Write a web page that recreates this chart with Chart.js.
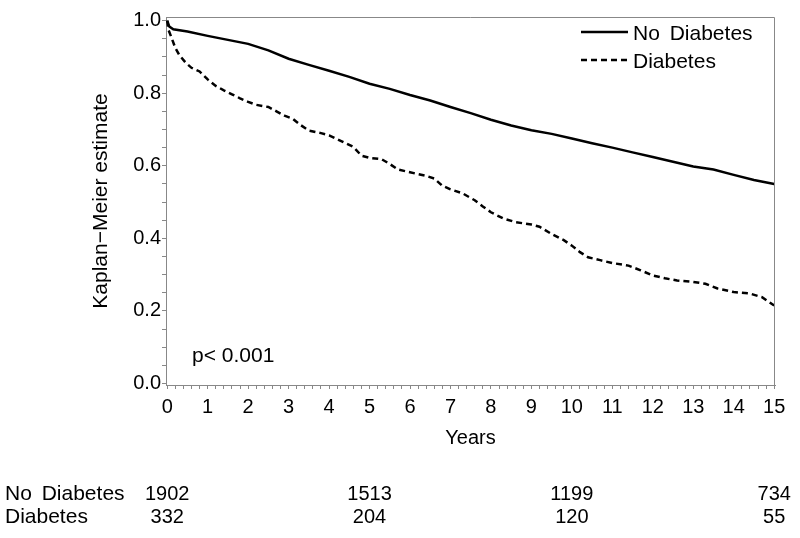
<!DOCTYPE html>
<html><head><meta charset="utf-8">
<script src="https://cdn.jsdelivr.net/npm/chart.js@4"></script>
<style>html,body{margin:0;padding:0;background:#fff;} #c{display:block;}</style>
</head><body>
<canvas id="c" width="800" height="538"></canvas>
<script>
const FONT = '"Liberation Sans", Arial, Helvetica, sans-serif';

const seriesNames = ['No Diabetes', 'Diabetes'];

const noDiabTime = [0, 0.05, 0.15, 0.5, 1.0, 1.5, 2.0, 2.5, 3.0, 3.5, 4.0, 4.5, 5.0, 5.5, 6.0, 6.5, 7.0, 7.5, 8.0, 8.5, 9.0, 9.5, 10.0, 10.5, 11.0, 11.5, 12.0, 12.5, 13.0, 13.5, 14.0, 14.5, 15.0];
const noDiabSurv = [1.0, 0.984, 0.976, 0.970, 0.958, 0.947, 0.936, 0.918, 0.895, 0.878, 0.862, 0.845, 0.826, 0.812, 0.795, 0.780, 0.762, 0.745, 0.727, 0.711, 0.698, 0.688, 0.675, 0.662, 0.650, 0.637, 0.624, 0.611, 0.598, 0.590, 0.575, 0.561, 0.550];

const diabTime = [0, 0.03, 0.1, 0.2, 0.3, 0.45, 0.6, 0.8, 1.0, 1.2, 1.4, 1.6, 1.8, 2.0, 2.2, 2.5, 2.7, 2.9, 3.1, 3.3, 3.5, 3.8, 4.0, 4.3, 4.6, 4.8, 5.0, 5.3, 5.5, 5.7, 6.0, 6.4, 6.6, 6.8, 7.0, 7.3, 7.6, 7.8, 8.0, 8.3, 8.6, 9.0, 9.2, 9.5, 9.8, 10.0, 10.2, 10.4, 10.7, 11.0, 11.4, 11.7, 12.0, 12.3, 12.6, 13.0, 13.3, 13.6, 14.0, 14.4, 14.7, 15.0];
const diabSurv = [1.0, 0.975, 0.955, 0.925, 0.905, 0.885, 0.870, 0.860, 0.838, 0.820, 0.808, 0.797, 0.786, 0.776, 0.768, 0.762, 0.750, 0.738, 0.730, 0.712, 0.697, 0.690, 0.684, 0.668, 0.652, 0.628, 0.622, 0.618, 0.605, 0.590, 0.582, 0.572, 0.565, 0.545, 0.535, 0.524, 0.505, 0.488, 0.472, 0.455, 0.445, 0.438, 0.432, 0.412, 0.395, 0.380, 0.362, 0.348, 0.340, 0.332, 0.325, 0.312, 0.298, 0.290, 0.284, 0.280, 0.275, 0.262, 0.252, 0.248, 0.238, 0.215];

const xMajorTicks = [0,1,2,3,4,5,6,7,8,9,10,11,12,13,14,15];
const yMajorTicks = [0.0, 0.2, 0.4, 0.6, 0.8, 1.0];

const riskTimes = [0, 5, 10, 15];
const riskNoDiab = [1902, 1513, 1199, 734];
const riskDiab = [332, 204, 120, 55];
const pValueText = 'p< 0.001';

const toPoints = (t, s) => t.map((x, i) => ({x: x, y: s[i]}));

const overlay = {
  id: 'overlay',
  afterDraw(chart) {
    const {ctx, chartArea: a, scales: {x}} = chart;
    ctx.save();
    ctx.strokeStyle = '#888';
    ctx.lineWidth = 1;
    ctx.beginPath();
    ctx.moveTo(a.left, a.top + 0.5);
    ctx.lineTo(a.right - 0.5, a.top + 0.5);
    ctx.lineTo(a.right - 0.5, a.bottom);
    ctx.stroke();

    ctx.font = '21px ' + FONT;
    ctx.fillStyle = '#000';
    ctx.textBaseline = 'middle';
    const hasWS = 'wordSpacing' in ctx;
    if (hasWS) ctx.wordSpacing = '4px';
    chart.data.datasets.forEach((ds, i) => {
      const yy = 32 + i * 28;
      ctx.strokeStyle = ds.borderColor;
      ctx.lineWidth = ds.borderWidth;
      ctx.setLineDash(ds.borderDash || []);
      ctx.beginPath();
      ctx.moveTo(581, yy);
      ctx.lineTo(628, yy);
      ctx.stroke();
      ctx.setLineDash([]);
      ctx.textAlign = 'left';
      ctx.fillText(ds.label, 633, yy + 2);
    });

    if (hasWS) ctx.wordSpacing = '0px';
    ctx.textAlign = 'left';
    ctx.fillText(pValueText, 192, 356);

    if (hasWS) ctx.wordSpacing = '4px';
    const rows = [[seriesNames[0], riskNoDiab, 494], [seriesNames[1], riskDiab, 517]];
    rows.forEach(([name, vals, yy]) => {
      ctx.font = '21px ' + FONT;
      ctx.textAlign = 'left';
      ctx.fillText(name, 5, yy);
      ctx.font = '20px ' + FONT;
      ctx.textAlign = 'center';
      vals.forEach((v, j) => ctx.fillText(String(v), x.getPixelForValue(riskTimes[j]), yy));
    });
    ctx.restore();
  }
};

new Chart(document.getElementById('c'), {
  type: 'line',
  data: {
    datasets: [
      {label: seriesNames[0], data: toPoints(noDiabTime, noDiabSurv), borderColor: '#000', borderWidth: 2.5, tension: 0, pointRadius: 0, fill: false},
      {label: seriesNames[1], data: toPoints(diabTime, diabSurv), borderColor: '#000', borderWidth: 2.5, borderDash: [6, 4], tension: 0, pointRadius: 0, fill: false}
    ]
  },
  options: {
    responsive: false,
    animation: false,
    devicePixelRatio: 1,
    layout: {padding: {left: 0, top: 17, right: 25, bottom: 88}},
    plugins: {legend: {display: false}, tooltip: {enabled: false}},
    scales: {
      x: {
        type: 'linear', min: -0.03, max: 15.02,
        afterBuildTicks(scale) {
          const t = [];
          for (let i = 0; i <= 75; i++) t.push({value: i / 5});
          scale.ticks = t;
        },
        afterFit(scale) { scale.height = 65; },
        grid: {drawOnChartArea: false, drawTicks: true, tickLength: 4, tickColor: '#888'},
        border: {display: true, color: '#888', width: 1},
        ticks: {
          autoSkip: false, maxRotation: 0, padding: 6, color: '#000',
          font: {size: 20, family: FONT},
          callback: (v) => xMajorTicks.includes(Math.round(v * 1000) / 1000) ? String(Math.round(v)) : ''
        },
        title: {display: true, text: 'Years', color: '#000', font: {size: 20, family: FONT}, padding: {top: 0, bottom: 0}}
      },
      y: {
        type: 'linear', min: -0.004, max: 1.01,
        afterBuildTicks(scale) {
          const t = [];
          for (let i = 0; i <= 20; i++) t.push({value: i / 20});
          scale.ticks = t;
        },
        afterFit(scale) { scale.width = 166; },
        grid: {drawOnChartArea: false, drawTicks: true, tickLength: 4, tickColor: '#888'},
        border: {display: true, color: '#888', width: 1},
        ticks: {
          autoSkip: false, padding: 1, color: '#000',
          font: {size: 20, family: FONT},
          callback: (v) => yMajorTicks.some(m => Math.abs(m - v) < 1e-6) ? v.toFixed(1) : ''
        },
        title: {display: true, text: 'Kaplan\u2212Meier estimate', color: '#000', font: {size: 21, family: FONT}, padding: {top: 89, bottom: 0}}
      }
    }
  },
  plugins: [overlay]
});
</script>
</body></html>
